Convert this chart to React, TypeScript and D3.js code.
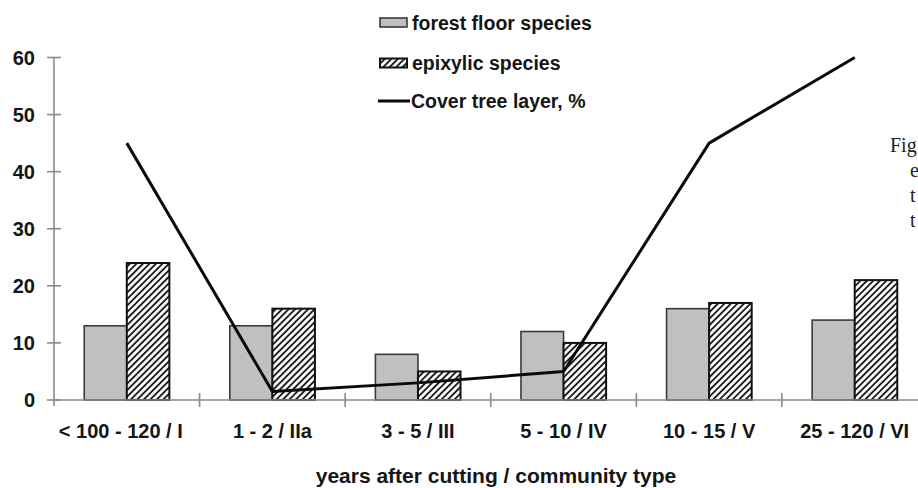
import { useEffect, useRef } from 'react';
import * as d3 from 'd3';

const categories = ['< 100 - 120 / I', '1 - 2 / IIa', '3 - 5 / III', '5 - 10 / IV', '10 - 15 / V', '25 - 120 / VI'];
const forestFloor = [13, 13, 8, 12, 16, 14];
const epixylic = [24, 16, 5, 10, 17, 21];
const coverTree = [45, 1.5, 3, 5, 45, 60];
const yTicks = [0, 10, 20, 30, 40, 50, 60];
const legendLabels = ['forest floor species', 'epixylic species', 'Cover tree layer, %'];
const captionBits = ['Fig', 'e', 't', 't'];

const W = 918;
const H = 488;
const FONT = '"Liberation Sans", Arial, sans-serif';

export default function App() {
  const ref = useRef<SVGSVGElement>(null);

  useEffect(() => {
    if (!ref.current) return;
    const svg = d3.select(ref.current);
    svg.selectAll('*').remove();

    const defs = svg.append('defs');
    const hatch = defs.append('pattern')
      .attr('id', 'hatch')
      .attr('patternUnits', 'userSpaceOnUse')
      .attr('width', 4.6).attr('height', 4.6)
      .attr('patternTransform', 'rotate(45)');
    hatch.append('rect').attr('width', 4.6).attr('height', 4.6).attr('fill', '#fff');
    hatch.append('line')
      .attr('x1', 1).attr('x2', 1).attr('y1', 0).attr('y2', 4.6)
      .attr('stroke', '#111').attr('stroke-width', 1.8);

    const x = d3.scaleBand<string>().domain(categories).range([54, 927.5]).padding(0);
    const inner = d3.scaleBand<string>().domain(['forest', 'epix']).range([0, x.bandwidth()])
      .paddingInner(0).paddingOuter(0.71);
    const y = d3.scaleLinear().domain([0, 60]).range([400, 57.5]);

    // y axis
    svg.append('line')
      .attr('x1', 54).attr('x2', 54).attr('y1', y(60)).attr('y2', y(0) + 6)
      .attr('stroke', '#8a8a8a').attr('stroke-width', 1.6);
    svg.append('g').selectAll('line').data(yTicks).enter().append('line')
      .attr('x1', 47).attr('x2', 61)
      .attr('y1', (d: number) => y(d)).attr('y2', (d: number) => y(d))
      .attr('stroke', '#8a8a8a').attr('stroke-width', 1.6);
    svg.append('g').selectAll('text').data(yTicks).enter().append('text')
      .attr('x', 35).attr('y', (d: number) => y(d) + 7)
      .attr('text-anchor', 'end')
      .attr('font-family', FONT).attr('font-weight', 'bold').attr('font-size', 20)
      .attr('fill', '#151515')
      .text((d: number) => d);

    // bars
    const groups = svg.append('g').selectAll('g').data(categories).enter().append('g')
      .attr('transform', (d: string) => `translate(${x(d)},0)`);
    groups.append('rect')
      .attr('x', inner('forest')!)
      .attr('y', (_: string, i: number) => y(forestFloor[i]))
      .attr('width', inner.bandwidth())
      .attr('height', (_: string, i: number) => y(0) - y(forestFloor[i]))
      .attr('fill', '#c0c0c0').attr('stroke', '#3a3a3a').attr('stroke-width', 1.6);
    groups.append('rect')
      .attr('x', inner('epix')!)
      .attr('y', (_: string, i: number) => y(epixylic[i]))
      .attr('width', inner.bandwidth())
      .attr('height', (_: string, i: number) => y(0) - y(epixylic[i]))
      .attr('fill', 'url(#hatch)').attr('stroke', '#111').attr('stroke-width', 2);

    // x axis
    svg.append('line')
      .attr('x1', 54).attr('x2', W).attr('y1', y(0)).attr('y2', y(0))
      .attr('stroke', '#8a8a8a').attr('stroke-width', 1.6);
    svg.append('g').selectAll('line').data(categories.slice(1)).enter().append('line')
      .attr('x1', (d: string) => x(d)!).attr('x2', (d: string) => x(d)!)
      .attr('y1', y(0) - 7).attr('y2', y(0) + 7)
      .attr('stroke', '#8a8a8a').attr('stroke-width', 1.6);
    svg.append('g').selectAll('text').data(categories).enter().append('text')
      .attr('x', (d: string, i: number) => x(d)! + x.bandwidth() / 2 - (i === 0 ? 6 : 0))
      .attr('y', 438)
      .attr('text-anchor', 'middle')
      .attr('font-family', FONT).attr('font-weight', 'bold').attr('font-size', 20)
      .attr('fill', '#151515')
      .text((d: string) => d);

    svg.append('text')
      .attr('x', 496).attr('y', 483)
      .attr('text-anchor', 'middle')
      .attr('font-family', FONT).attr('font-weight', 'bold').attr('font-size', 21)
      .attr('fill', '#151515')
      .text('years after cutting / community type');

    // cover line
    const line = d3.line<number>()
      .x((_: number, i: number) => x(categories[i])! + x.bandwidth() / 2)
      .y((d: number) => y(d));
    svg.append('path')
      .datum(coverTree)
      .attr('d', line)
      .attr('fill', 'none').attr('stroke', '#0a0a0a').attr('stroke-width', 3)
      .attr('stroke-linejoin', 'round');

    // legend
    const rows = [22.5, 63, 101];
    svg.append('rect').attr('x', 380).attr('y', rows[0] - 4.5).attr('width', 27).attr('height', 9)
      .attr('fill', '#c0c0c0').attr('stroke', '#3a3a3a').attr('stroke-width', 1.6);
    svg.append('rect').attr('x', 380).attr('y', rows[1] - 4.5).attr('width', 27).attr('height', 9)
      .attr('fill', 'url(#hatch)').attr('stroke', '#111').attr('stroke-width', 2);
    svg.append('line').attr('x1', 378).attr('x2', 410).attr('y1', rows[2]).attr('y2', rows[2])
      .attr('stroke', '#0a0a0a').attr('stroke-width', 3);
    svg.append('g').selectAll('text').data(legendLabels).enter().append('text')
      .attr('x', (_: string, i: number) => (i === 2 ? 411 : 412))
      .attr('y', (_: string, i: number) => rows[i] + 7)
      .attr('font-family', FONT).attr('font-weight', 'bold').attr('font-size', 19.5)
      .attr('fill', '#151515')
      .text((d: string) => d);

    // caption fragment at right edge
    svg.append('g').selectAll('text').data(captionBits).enter().append('text')
      .attr('x', (_: string, i: number) => (i === 0 ? 890 : 910))
      .attr('y', (_: string, i: number) => 152 + i * 25)
      .attr('font-family', '"Liberation Serif", "Times New Roman", serif').attr('font-size', 20)
      .attr('fill', '#222')
      .text((d: string) => d);
  }, []);

  return (
    <div style={{ position: 'fixed', left: 0, top: 0, width: W, height: H, background: '#fff', overflow: 'hidden' }}>
      <svg ref={ref} width={W} height={H} style={{ display: 'block' }} />
    </div>
  );
}
